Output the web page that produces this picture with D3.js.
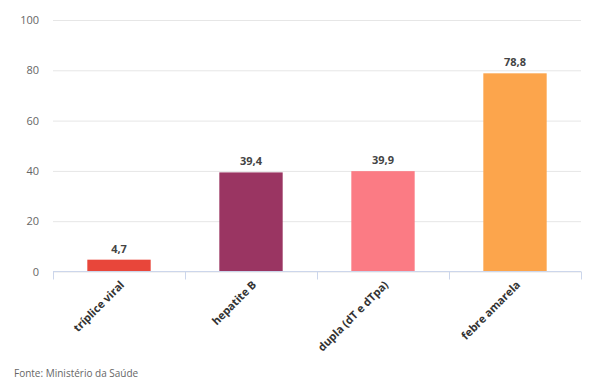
<!DOCTYPE html>
<html>
<head>
<meta charset="utf-8">
<script src="https://cdn.jsdelivr.net/npm/d3@7"></script>
<style>
  body { margin: 0; background: #fff; font-family: "Open Sans", sans-serif; }
</style>
</head>
<body>
<div id="chart"></div>
<script>
// data
const categories = ["tríplice viral", "hepatite B", "dupla (dT e dTpa)", "febre amarela"];
const values = [4.7, 39.4, 39.9, 78.8];
const barColors = ["#e8463a", "#9a3562", "#fb7b84", "#fca54c"];
const yTicks = [0, 20, 40, 60, 80, 100];

const w = 600, h = 387;
const margin = { top: 20, right: 19, bottom: 115, left: 53 };

let svg = d3.select("#chart").append("svg")
	.attr("width", w)
	.attr("height", h);

let x = d3.scaleBand()
	.domain(categories)
	.range([margin.left, w - margin.right])
	.paddingInner(0.52)
	.paddingOuter(0.26);

let y = d3.scaleLinear()
	.domain([0, 100])
	.range([h - margin.bottom - 0.5, margin.top]);

//gridlines + y labels
let yAxis = svg.append("g")
	.attr("transform", `translate(${margin.left},0)`)
	.call(d3.axisLeft(y).tickValues(yTicks).tickSize(-(w - margin.left - margin.right)).tickPadding(14));
yAxis.select(".domain").remove();
yAxis.selectAll(".tick line").attr("stroke", "#e6e6e6");
yAxis.selectAll(".tick text")
	.attr("fill", "#666")
	.style("font-size", "11px")
	.style("font-family", "'Open Sans', sans-serif");

//bars
svg.selectAll(".bar")
	.data(values)
	.join("rect")
	.attr("class", "bar")
	.attr("x", (d, i) => x(categories[i]))
	.attr("width", x.bandwidth())
	.attr("y", d => y(d))
	.attr("height", d => y(0) - y(d))
	.attr("fill", (d, i) => barColors[i]);

//value labels
svg.selectAll(".val")
	.data(values)
	.join("text")
	.attr("class", "val")
	.attr("x", (d, i) => x(categories[i]) + x.bandwidth() / 2)
	.attr("y", d => y(d) - 7)
	.attr("text-anchor", "middle")
	.attr("fill", "#444")
	.style("font-size", "11px")
	.style("font-weight", "bold")
	.text(d => d.toFixed(1).replace(".", ","));

//x axis, ticks on band edges
let xEdge = d3.scaleLinear()
	.domain([0, categories.length])
	.range([margin.left, w - margin.right]);
let xAxis = svg.append("g")
	.attr("transform", `translate(0,${y(0)})`);
xAxis.append("line")
	.attr("x1", margin.left).attr("x2", w - margin.right)
	.attr("stroke", "#ccd6eb");
xAxis.selectAll(".edge")
	.data(d3.range(categories.length + 1))
	.join("line")
	.attr("class", "edge")
	.attr("x1", d => Math.round(xEdge(d)) + 0.5)
	.attr("x2", d => Math.round(xEdge(d)) + 0.5)
	.attr("y1", 0).attr("y2", 8)
	.attr("stroke", "#ccd6eb");

xAxis.selectAll(".cat")
	.data(categories)
	.join("text")
	.attr("class", "cat")
	.attr("text-anchor", "end")
	.attr("transform", d => `translate(${x(d) + x.bandwidth() / 2 + 6},${14}) rotate(-45)`)
	.attr("fill", "#333")
	.style("font-size", "11px")
	.style("font-weight", "bold")
	.text(d => d);

//source
svg.append("text")
	.attr("x", 14)
	.attr("y", 377)
	.attr("fill", "#666")
	.style("font-size", "10px")
	.text("Fonte: Ministério da Saúde");
</script>
</body>
</html>
